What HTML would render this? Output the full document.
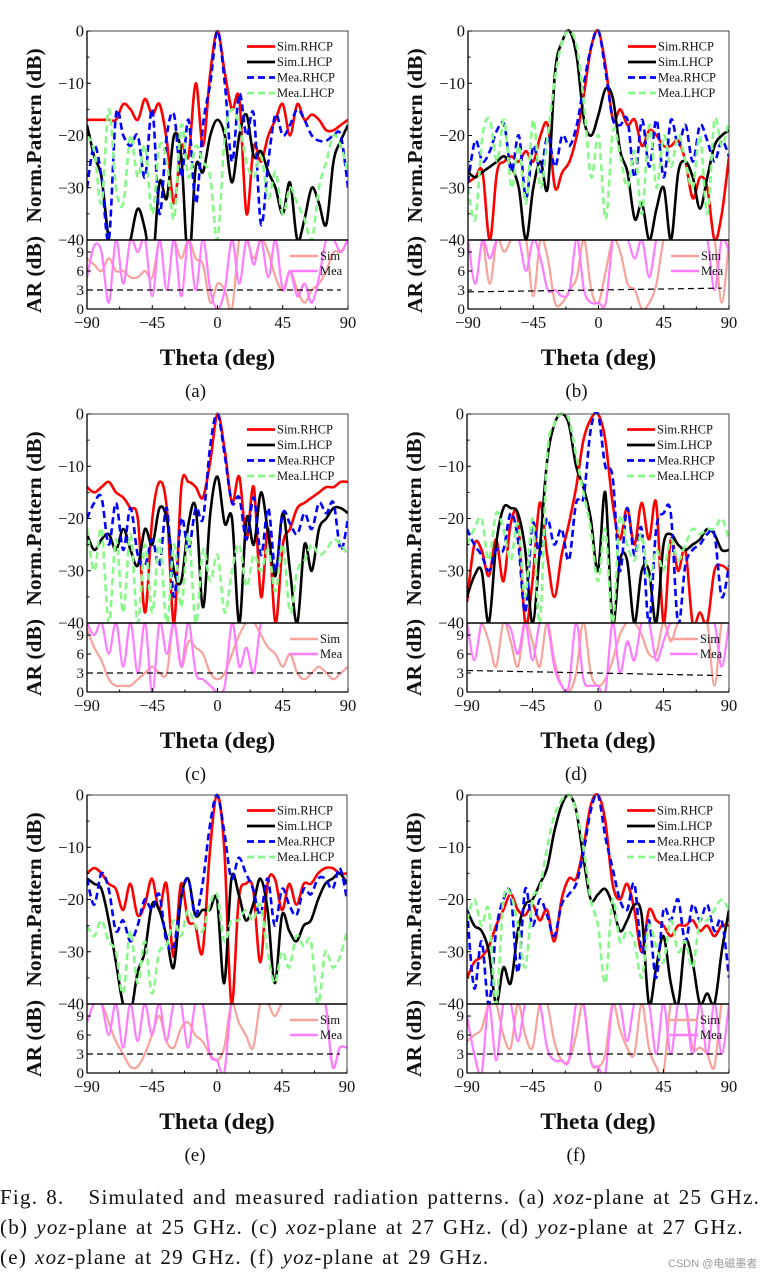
<!DOCTYPE html>
<html><head><meta charset="utf-8"><style>
body{margin:0;background:#fff;width:781px;height:1281px;overflow:hidden;position:relative;font-family:"Liberation Serif",serif}
svg{position:absolute;left:0;top:0}
.cap{position:absolute;left:0;font-size:21px;letter-spacing:1.25px;word-spacing:1.5px;color:#111;white-space:nowrap;font-family:"Liberation Serif",serif}
</style></head><body>
<svg id="fig" width="781" height="1281" viewBox="0 0 781 1281"></svg>
<div class="cap" style="top:1185px">Fig. 8.&nbsp;&nbsp;&nbsp;Simulated and measured radiation patterns. (a) <i>xoz</i>-plane at 25 GHz.</div>
<div class="cap" style="top:1215px">(b) <i>yoz</i>-plane at 25 GHz. (c) <i>xoz</i>-plane at 27 GHz. (d) <i>yoz</i>-plane at 27 GHz.</div>
<div class="cap" style="top:1245px">(e) <i>xoz</i>-plane at 29 GHz. (f) <i>yoz</i>-plane at 29 GHz.</div>
<div style="position:absolute;left:668px;top:1255px;font-size:11px;color:#999;font-family:'Liberation Sans','Noto Sans CJK SC',sans-serif">CSDN @电磁墨者</div>
<script>
const theta=[-90,-85,-80,-75,-70,-65,-60,-55,-50,-45,-40,-35,-30,-25,-20,-15,-10,-5,0,5,10,15,20,25,30,35,40,45,50,55,60,65,70,75,80,85,90];
const patTicks=[0,-10,-20,-30,-40];
const patTickLabels=["0","\u221210","\u221220","\u221230","\u221240"];
const arTicks=[0,3,6,9];
const xTicks=[-90,-45,0,45,90];
const xTickLabels=["\u221290","\u221245","0","45","90"];
const seriesNames=["Sim.RHCP","Sim.LHCP","Mea.RHCP","Mea.LHCP"];
const arNames=["Sim","Mea"];
// panel a
const aSimR=[-17,-17,-17,-17,-17,-14,-15,-17,-13,-16,-14,-21,-33,-22,-24,-10,-22,-8,0,-8,-15,-13,-35,-22,-25,-20,-17,-14,-20,-14,-17,-16,-17,-19,-19,-18,-17];
const aSimL=[-18,-24,-28,-40,-45,-45,-40,-34,-38,-45,-29,-32,-20,-24,-45,-26,-27,-20,-17,-20,-29,-20,-16,-24,-23,-27,-30,-35,-29,-40,-36,-30,-33,-37,-25,-21,-18];
const aMeaR=[-30,-22,-28,-40,-16,-20,-22,-20,-28,-15,-35,-20,-16,-28,-17,-33,-18,-10,0,-10,-25,-12,-20,-16,-37,-25,-16,-20,-18,-15,-17,-20,-21,-21,-20,-20,-30];
const aMeaL=[-20,-23,-33,-15,-30,-33,-20,-28,-22,-35,-22,-25,-36,-18,-28,-22,-25,-28,-40,-20,-15,-18,-25,-28,-24,-32,-27,-35,-30,-33,-36,-40,-30,-25,-20,-22,-27];
const aArSim=[8,7,6,8,6,6,5,5,6,5,11,11,11,8,11,8,7,1,4,3,0,11,11,8,11,9,5,3,6,3,1,3,4,6,9,9,11];
const aArMea=[5,10,9,1,11,4,11,9,11,2,11,3,11,2,11,3,11,3,0,3,11,4,11,7,11,5,11,3,6,2,4,1,5,11,11,9,11];
// panel b
const bSimR=[-29,-28,-27,-40,-27,-25,-24,-25,-23,-25,-20,-18,-30,-27,-25,-20,-12,-3,0,-7,-17,-15,-18,-17,-22,-19,-20,-22,-22,-21,-25,-32,-28,-30,-40,-35,-24];
const bSimL=[-27,-28,-27,-26,-25,-24,-26,-30,-40,-30,-25,-30,-8,-2,0,-5,-17,-20,-16,-11,-13,-23,-27,-36,-33,-40,-34,-30,-40,-27,-25,-28,-34,-28,-22,-20,-19];
const bMeaR=[-29,-21,-25,-23,-19,-18,-27,-20,-32,-22,-27,-20,-26,-20,-22,-18,-10,-3,0,-8,-17,-18,-17,-28,-17,-26,-17,-28,-17,-22,-18,-25,-18,-21,-25,-21,-24];
const bMeaL=[-30,-36,-20,-17,-25,-17,-30,-22,-33,-17,-30,-20,-9,-2,0,-3,-14,-28,-20,-36,-19,-24,-30,-23,-35,-18,-30,-20,-26,-20,-25,-30,-20,-35,-17,-22,-17];
const bArSim=[11,11,11,4,11,9,11,11,11,2,11,8,1,1,3,5,11,3,1,6,11,9,4,3,0,1,4,11,11,11,11,11,11,11,11,1,11];
const bArMea=[11,4,11,8,11,11,11,11,6,11,8,3,3,2,3,11,3,1,1,1,11,11,11,8,11,5,11,11,11,11,11,11,11,11,3,11,9];
// panel c
const cSimR=[-14,-15,-14,-13,-15,-16,-18,-20,-38,-20,-13,-18,-40,-14,-13,-14,-16,-9,0,-7,-17,-12,-24,-14,-35,-22,-40,-25,-22,-18,-17,-16,-15,-14,-14,-13,-13];
const cSimL=[-23,-26,-24,-23,-26,-22,-26,-29,-22,-25,-18,-20,-30,-32,-21,-18,-37,-19,-12,-21,-20,-40,-20,-25,-15,-23,-31,-19,-30,-40,-25,-30,-22,-20,-18,-18,-19];
const cMeaR=[-20,-17,-16,-25,-17,-26,-18,-27,-29,-24,-29,-18,-35,-20,-26,-18,-20,-6,0,-8,-17,-16,-24,-16,-27,-18,-30,-19,-21,-23,-19,-22,-17,-19,-17,-26,-20];
const cMeaL=[-22,-30,-22,-40,-24,-38,-23,-40,-25,-38,-24,-40,-25,-37,-23,-40,-26,-32,-27,-38,-30,-25,-33,-27,-30,-26,-34,-25,-38,-30,-28,-25,-27,-26,-24,-25,-27];
const cArSim=[10,7,5,2,1,1,1,2,3,4,3,3,11,4,8,7,6,3,2,3,6,9,11,11,9,7,6,4,6,3,2,3,4,3,2,3,4];
const cArMea=[11,9,11,6,11,4,11,3,11,0,11,6,11,4,11,3,2,1,0,1,11,4,7,3,11,11,11,11,11,11,11,11,11,11,11,11,11];
// panel d
const dSimR=[-36,-25,-26,-31,-24,-32,-21,-20,-40,-32,-17,-27,-35,-27,-21,-14,-5,-1,0,-5,-17,-24,-18,-25,-17,-24,-17,-40,-24,-30,-26,-40,-38,-40,-30,-29,-30];
const dSimL=[-35,-31,-30,-40,-25,-18,-18,-19,-26,-40,-26,-9,-2,0,-2,-10,-14,-20,-30,-15,-40,-28,-28,-40,-30,-30,-40,-25,-23,-25,-26,-25,-24,-22,-23,-26,-26];
const dMeaR=[-22,-25,-27,-30,-26,-26,-19,-24,-38,-21,-27,-20,-25,-22,-28,-17,-16,-3,0,-10,-12,-30,-18,-27,-22,-40,-22,-19,-19,-40,-29,-26,-25,-23,-23,-35,-29];
const dMeaL=[-25,-22,-20,-28,-19,-22,-28,-21,-35,-20,-40,-8,-2,0,-1,-8,-15,-22,-32,-22,-40,-20,-25,-28,-23,-32,-26,-30,-24,-28,-25,-22,-23,-22,-22,-20,-24];
const dArSim=[11,11,11,8,4,11,8,4,11,8,4,11,5,1,0,3,11,3,1,2,5,9,11,11,9,6,6,11,8,11,11,11,11,11,1,11,11];
const dArMea=[11,5,11,11,11,11,10,6,11,5,11,11,4,1,1,11,2,1,1,0,11,3,8,5,11,11,5,8,11,11,11,11,11,11,11,4,11];
// panel e
const eSimR=[-15,-14,-15,-17,-18,-22,-17,-23,-21,-16,-22,-17,-31,-17,-24,-25,-30,-11,0,-10,-40,-20,-17,-18,-32,-17,-16,-22,-17,-21,-17,-17,-15,-14,-14,-15,-15];
const eSimL=[-16,-17,-18,-24,-32,-40,-42,-34,-30,-21,-22,-27,-33,-20,-16,-23,-22,-22,-20,-36,-16,-19,-24,-21,-16,-22,-36,-23,-26,-28,-25,-24,-20,-17,-16,-15,-17];
const eMeaR=[-16,-21,-15,-18,-26,-24,-28,-25,-20,-22,-19,-28,-29,-20,-16,-23,-17,-6,0,-7,-16,-12,-15,-18,-23,-16,-25,-18,-21,-23,-18,-19,-16,-16,-18,-14,-20];
const eMeaL=[-25,-27,-24,-28,-30,-38,-26,-36,-28,-38,-30,-29,-24,-27,-22,-25,-26,-21,-19,-28,-24,-24,-22,-24,-21,-30,-36,-30,-33,-27,-29,-28,-40,-30,-33,-31,-26];
const eArSim=[11,11,11,8,5,3,1,1,3,6,9,5,4,7,8,6,5,3,2,4,11,8,6,4,11,11,9,11,11,11,11,11,11,11,1,4,4];
const eArMea=[8,11,11,6,11,4,11,5,11,6,11,5,11,11,4,11,11,3,2,0,11,11,11,11,11,11,11,11,11,11,11,11,11,11,1,4,4];
// panel f
const fSimR=[-35,-32,-31,-29,-25,-22,-19,-22,-23,-21,-24,-22,-28,-20,-16,-16,-10,-2,0,-5,-17,-20,-17,-22,-30,-22,-24,-25,-27,-25,-25,-24,-26,-25,-27,-25,-25];
const fSimL=[-22,-25,-26,-30,-40,-33,-36,-26,-21,-20,-17,-14,-7,-2,0,-3,-12,-20,-19,-18,-21,-26,-24,-21,-23,-40,-33,-27,-36,-40,-28,-32,-40,-38,-40,-30,-22];
const fMeaR=[-22,-37,-28,-40,-26,-20,-19,-34,-18,-25,-20,-23,-27,-21,-19,-17,-11,-3,0,-8,-14,-20,-22,-17,-30,-24,-35,-22,-24,-20,-28,-21,-24,-21,-26,-24,-35];
const fMeaL=[-24,-20,-25,-22,-40,-20,-19,-25,-33,-20,-18,-10,-4,-1,0,-3,-10,-20,-25,-36,-20,-28,-26,-28,-35,-25,-29,-32,-24,-30,-28,-33,-24,-24,-22,-20,-22];
const fArSim=[5,6,7,11,11,6,4,11,6,4,11,11,5,2,2,6,11,2,1,3,11,7,4,3,11,4,1,0,11,11,11,4,4,3,1,11,11];
const fArMea=[9,3,0,11,2,11,11,5,11,11,11,4,2,2,2,11,11,2,1,0,11,11,5,11,11,11,3,11,3,11,11,3,11,3,11,3,11];
const refA=[[-90,3],[85,3]],refB=[[-90,2.7],[85,3.3]],refD=[[-90,3.4],[85,2.6]];

const NS="http://www.w3.org/2000/svg";
const svg=document.getElementById('fig');
function mk(tag,attrs,parent){const e=document.createElementNS(NS,tag);for(const k in attrs)e.setAttribute(k,attrs[k]);(parent||svg).appendChild(e);return e;}
function spline(pts){let d="M"+pts[0][0].toFixed(1)+","+pts[0][1].toFixed(1);
 for(let i=0;i<pts.length-1;i++){const p0=pts[Math.max(0,i-1)],p1=pts[i],p2=pts[i+1],p3=pts[Math.min(pts.length-1,i+2)];
  const c1=[p1[0]+(p2[0]-p0[0])/6,p1[1]+(p2[1]-p0[1])/6],c2=[p2[0]-(p3[0]-p1[0])/6,p2[1]-(p3[1]-p1[1])/6];
  d+="C"+c1[0].toFixed(1)+","+c1[1].toFixed(1)+" "+c2[0].toFixed(1)+","+c2[1].toFixed(1)+" "+p2[0].toFixed(1)+","+p2[1].toFixed(1);}
 return d;}
const panels=[
 {id:"a",x0:87,x1:348,top:31,label:"(a)",s:[aSimR,aSimL,aMeaR,aMeaL],ar:[aArSim,aArMea],ref:refA},
 {id:"b",x0:468,x1:729,top:31,label:"(b)",s:[bSimR,bSimL,bMeaR,bMeaL],ar:[bArSim,bArMea],ref:refB},
 {id:"c",x0:87,x1:348,top:414,label:"(c)",s:[cSimR,cSimL,cMeaR,cMeaL],ar:[cArSim,cArMea],ref:refA},
 {id:"d",x0:467,x1:729,top:414,label:"(d)",s:[dSimR,dSimL,dMeaR,dMeaL],ar:[dArSim,dArMea],ref:refD},
 {id:"e",x0:87,x1:347,top:795,label:"(e)",s:[eSimR,eSimL,eMeaR,eMeaL],ar:[eArSim,eArMea],ref:refA},
 {id:"f",x0:467,x1:729,top:795,label:"(f)",s:[fSimR,fSimL,fMeaR,fMeaL],ar:[fArSim,fArMea],ref:refA}];
const PH=209,AH=69,AMAX=10.9;
const styles=[{c:"#ff0000",d:""},{c:"#000000",d:""},{c:"#0000ff",d:"7,4"},{c:"#88f888",d:"7,4"}];
const arStyles=["#f7a29b","#ff7bff"];
panels.forEach(p=>{
 const g=mk('g',{});
 
 
 const X=t=>p.x0+(t+90)/180*(p.x1-p.x0);
 const Yp=v=>p.top+(-v)/40*PH;
 const yb=p.top+PH, ya=yb+AH;
 const Ya=v=>ya-v/AMAX*AH;
 const cid="clip"+p.id;
 const defs=mk('defs',{},g);
 const cp=mk('clipPath',{id:cid+"p"},defs);mk('rect',{x:p.x0,y:p.top-2,width:p.x1-p.x0,height:PH+2},cp);
 const ca=mk('clipPath',{id:cid+"a"},defs);mk('rect',{x:p.x0,y:yb,width:p.x1-p.x0,height:AH},ca);
 p.s.forEach((arr,i)=>{
  const path=mk('path',{d:spline(theta.map((t,k)=>[X(t),Yp(arr[k])])),fill:"none",stroke:styles[i].c,"stroke-width":2.6,"stroke-dasharray":styles[i].d,"clip-path":"url(#"+cid+"p)"},g);
  
  
 });
 p.ar.forEach((arr,i)=>{
  const path=mk('path',{d:spline(theta.map((t,k)=>[X(t),Ya(arr[k])])),fill:"none",stroke:arStyles[i],"stroke-width":2.2,"clip-path":"url(#"+cid+"a)"},g);
  
  
 });
 const rl=mk('line',{x1:X(p.ref[0][0]),y1:Ya(p.ref[0][1]),x2:X(p.ref[1][0]),y2:Ya(p.ref[1][1]),stroke:"#000","stroke-width":1.2,"stroke-dasharray":"6,4"},g);
 
 
 const fr=mk('rect',{x:p.x0,y:p.top,width:p.x1-p.x0,height:PH+AH,fill:"none",stroke:"#444","stroke-width":1},g);
 
 
 mk('line',{x1:p.x0,y1:yb,x2:p.x1,y2:yb,stroke:"#000","stroke-width":1.5},g);
 mk('line',{x1:p.x0,y1:p.top,x2:p.x0,y2:ya,stroke:"#000","stroke-width":1.3},g);
 mk('line',{x1:p.x0,y1:ya,x2:p.x1,y2:ya,stroke:"#000","stroke-width":1.3},g);
 patTicks.forEach((v,i)=>{
  mk('line',{x1:p.x0,y1:Yp(v),x2:p.x0+4,y2:Yp(v),stroke:"#000"},g);
  if(i<4) mk('line',{x1:p.x0,y1:Yp(v-5),x2:p.x0+2.5,y2:Yp(v-5),stroke:"#000"},g);
  const t=mk('text',{x:p.x0-3,y:Yp(v)+5.5,"text-anchor":"end","font-size":16.5,fill:"#111"},g);t.textContent=patTickLabels[i];
  
  
 });
 arTicks.forEach(v=>{
  mk('line',{x1:p.x0,y1:Ya(v),x2:p.x0+4,y2:Ya(v),stroke:"#000"},g);
  const t=mk('text',{x:p.x0-3,y:Ya(v)+5,"text-anchor":"end","font-size":15,fill:"#111"},g);t.textContent=String(v);
  
  
 });
 xTicks.forEach((v,i)=>{
  mk('line',{x1:X(v),y1:ya,x2:X(v),y2:ya-4,stroke:"#000"},g);
  if(i<4) mk('line',{x1:X(v+22.5),y1:ya,x2:X(v+22.5),y2:ya-2.5,stroke:"#000"},g);
  const t=mk('text',{x:X(v),y:ya+19,"text-anchor":"middle","font-size":16.5,fill:"#111"},g);t.textContent=xTickLabels[i];
  
  
 });
 const yc=p.top+PH/2, tx=p.x0-46;
 const yt=mk('text',{x:tx,y:yc,"text-anchor":"middle","font-size":21.5,"font-weight":"bold",fill:"#111",transform:"rotate(-90 "+tx+" "+yc+")"},g);yt.textContent="Norm.Pattern (dB)";
 
 
 const ac=yb+AH/2;
 const at=mk('text',{x:tx,y:ac,"text-anchor":"middle","font-size":21.5,"font-weight":"bold",fill:"#111",transform:"rotate(-90 "+tx+" "+ac+")"},g);at.textContent="AR (dB)";
 
 
 const xc=(p.x0+p.x1)/2;
 const xt=mk('text',{x:xc,y:ya+56,"text-anchor":"middle","font-size":23.5,"font-weight":"bold",fill:"#111"},g);xt.textContent="Theta (deg)";
 
 
 const lb=mk('text',{x:xc-22,y:ya+88,"text-anchor":"middle","font-size":19,fill:"#111"},g);lb.textContent=p.label;
 
 
 const lx=p.x0+160;
 seriesNames.forEach((n,i)=>{
  const ly=p.top+15.5+i*15.5;
  const ll=mk('line',{x1:lx,y1:ly,x2:lx+28,y2:ly,stroke:styles[i].c,"stroke-width":2.8,"stroke-dasharray":styles[i].d},g);
  
  
  const t=mk('text',{x:lx+30,y:ly+4,"font-size":12.5,fill:"#111"},g);t.textContent=n;
  
  
 });
 arNames.forEach((n,i)=>{
  const ly=yb+16+i*15;
  const ll=mk('line',{x1:lx+43,y1:ly,x2:lx+71,y2:ly,stroke:arStyles[i],"stroke-width":2.4},g);
  
  
  const t=mk('text',{x:lx+73,y:ly+4,"font-size":12.5,fill:"#111"},g);t.textContent=n;
  
  
 });
});
</script>
</body></html>
